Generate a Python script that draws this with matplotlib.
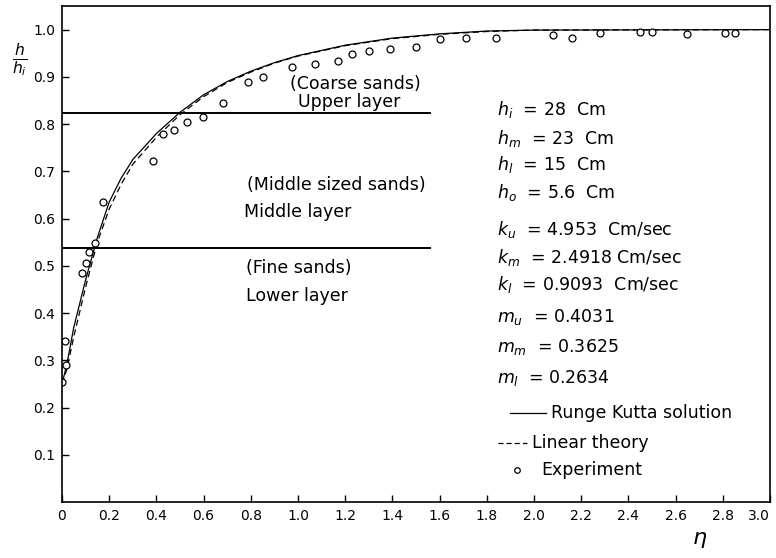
import matplotlib
matplotlib.use("Agg")
import matplotlib.pyplot as plt

plt.rcParams['font.family'] = ['DejaVu Sans']

# Runge Kutta solution
rk_eta = [0.0, 0.02, 0.05, 0.10, 0.15, 0.20, 0.25, 0.30, 0.40, 0.50, 0.60, 0.70, 0.80, 0.90, 1.00, 1.20, 1.40, 1.60, 1.80, 2.00, 3.00]
rk_h = [0.25, 0.29, 0.37, 0.47, 0.56, 0.635, 0.685, 0.725, 0.78, 0.825, 0.862, 0.89, 0.912, 0.93, 0.945, 0.967, 0.982, 0.991, 0.997, 0.999, 1.0]

# Linear theory
lt_eta = [0.0, 0.02, 0.05, 0.10, 0.15, 0.20, 0.25, 0.30, 0.40, 0.50, 0.60, 0.70, 0.80, 0.90, 1.00, 1.20, 1.40, 1.60, 1.80, 2.00, 3.00]
lt_h = [0.25, 0.28, 0.35, 0.455, 0.55, 0.62, 0.672, 0.715, 0.772, 0.82, 0.858, 0.888, 0.91, 0.929, 0.944, 0.966, 0.981, 0.99, 0.996, 0.999, 1.0]

# Experiment
exp_eta = [0.0, 0.013, 0.015, 0.085, 0.10, 0.115, 0.14, 0.175, 0.385, 0.43, 0.475, 0.53, 0.597, 0.682,
           0.79, 0.85, 0.975, 1.07, 1.17, 1.23, 1.30, 1.39, 1.50, 1.60, 1.71, 1.84, 2.08, 2.16, 2.28,
           2.45, 2.50, 2.65, 2.81, 2.85]
exp_h = [0.254, 0.341, 0.29, 0.485, 0.506, 0.53, 0.549, 0.636, 0.722, 0.778, 0.788, 0.805, 0.816, 0.845,
         0.89, 0.90, 0.92, 0.928, 0.934, 0.949, 0.955, 0.958, 0.964, 0.981, 0.983, 0.983, 0.989, 0.983, 0.993,
         0.994, 0.996, 0.99, 0.993, 0.993]

# layer boundaries
layer_levels = [0.823, 0.537]
layer_end = 1.56

x_ticks = [0, 0.2, 0.4, 0.6, 0.8, 1.0, 1.2, 1.4, 1.6, 1.8, 2.0, 2.2, 2.4, 2.6, 2.8, 3.0]
x_ticklabels = ["0", "0.2", "0.4", "0.6", "0.8", "1.0", "1.2", "1.4", "1.6", "1.8", "2.0", "2.2", "2.4", "2.6", "2.8", "3.0"]
y_ticks = [0.1, 0.2, 0.3, 0.4, 0.5, 0.6, 0.7, 0.8, 0.9, 1.0]
y_ticklabels = ["0.1", "0.2", "0.3", "0.4", "0.5", "0.6", "0.7", "0.8", "0.9", "1.0"]

params = [r"$h_i$  = 28  Cm", r"$h_m$  = 23  Cm", r"$h_l$  = 15  Cm", r"$h_o$  = 5.6  Cm",
          r"$k_u$  = 4.953  Cm/sec", r"$k_m$  = 2.4918 Cm/sec", r"$k_l$  = 0.9093  Cm/sec",
          r"$m_u$  = 0.4031", r"$m_m$  = 0.3625", r"$m_l$  = 0.2634"]
param_y = [0.83, 0.77, 0.715, 0.656, 0.577, 0.518, 0.46, 0.392, 0.328, 0.263]

fig = plt.figure(figsize=(7.76, 5.58), dpi=100)
ax = fig.add_axes([62/776, 56/558, 708/776, 496/558])

ax.plot(rk_eta, rk_h, color='black', lw=0.9, solid_capstyle='butt')
ax.plot(lt_eta, lt_h, color='black', lw=0.9, ls=(0, (5, 3)))
ax.plot(exp_eta, exp_h, ls='none', marker='o', ms=5, mfc='white', mec='black', mew=0.9)
for lv in layer_levels:
    ax.plot([0, layer_end], [lv, lv], color='black', lw=1.4)

ax.set_xlim(0, 3.0)
ax.set_ylim(0, 1.05)
ax.set_xticks(x_ticks)
ax.set_xticklabels(x_ticklabels)
ax.set_yticks(y_ticks)
ax.set_yticklabels(y_ticklabels)
ax.tick_params(direction='in', length=5, width=1, labelsize=10, pad=5)
ax.get_xticklabels()[-1].set_ha('right')
for s in ax.spines.values():
    s.set_linewidth(1.2)

fs = 12.5
ax.text(0.965, 0.885, "(Coarse sands)", fontsize=fs, va='center')
ax.text(1.0, 0.846, "Upper layer", fontsize=fs, va='center')
ax.text(0.785, 0.672, "(Middle sized sands)", fontsize=fs, va='center')
ax.text(0.77, 0.614, "Middle layer", fontsize=fs, va='center')
ax.text(0.78, 0.496, "(Fine sands)", fontsize=fs, va='center')
ax.text(0.78, 0.436, "Lower layer", fontsize=fs, va='center')

for t, yv in zip(params, param_y):
    ax.text(1.845, yv, t, fontsize=fs, va='center')

# legend-like annotations
ax.plot([1.90, 2.05], [0.189, 0.189], color='black', lw=0.9)
ax.text(2.07, 0.189, "Runge Kutta solution", fontsize=fs, va='center')
ax.plot([1.847, 1.97], [0.125, 0.125], color='black', lw=0.9, ls=(0, (4, 2.5)))
ax.text(1.99, 0.125, "Linear theory", fontsize=fs, va='center')
ax.plot([1.93], [0.068], ls='none', marker='o', ms=4, mfc='white', mec='black', mew=0.9)
ax.text(2.03, 0.068, "Experiment", fontsize=fs, va='center')

fig.text(20/776, 1 - 60/558, r"$\frac{h}{h_i}$", fontsize=16, ha='center', va='center')
fig.text(700/776, 1 - 540/558, r"$\eta$", fontsize=16, ha='center', va='center')

fig.savefig("out.png", dpi=100)
